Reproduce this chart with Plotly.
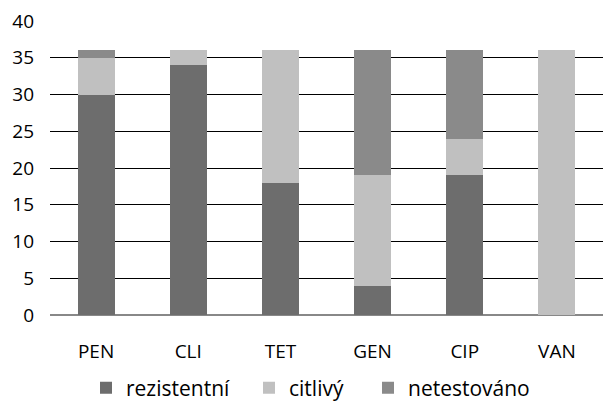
import plotly.graph_objects as go

categories = ["PEN", "CLI", "TET", "GEN", "CIP", "VAN"]
rezistentni = [30, 34, 18, 4, 19, 0]
citlivy = [5, 2, 18, 15, 5, 36]
netestovano = [1, 0, 0, 17, 12, 0]
y_ticks = [0, 5, 10, 15, 20, 25, 30, 35, 40]

font = "Open Sans, DejaVu Sans, sans-serif"

fig = go.Figure()
fig.add_trace(go.Bar(name="rezistentní", x=categories, y=rezistentni, marker_color="#6d6d6d",
                     marker_line_width=0, legend="legend"))
fig.add_trace(go.Bar(name="citlivý", x=categories, y=citlivy, marker_color="#c0c0c0",
                     marker_line_width=0, legend="legend2"))
fig.add_trace(go.Bar(name="netestováno", x=categories, y=netestovano, marker_color="#8a8a8a",
                     marker_line_width=0, legend="legend3"))

leg = dict(orientation="h", xanchor="left", xref="container", yref="container",
           y=0.037, yanchor="middle",
           font=dict(size=21), itemwidth=30, bgcolor="rgba(0,0,0,0)")

fig.update_layout(
    barmode="stack",
    bargap=0.6,
    width=603, height=403,
    margin=dict(l=50, r=0, t=21, b=88, autoexpand=False),
    plot_bgcolor="white", paper_bgcolor="white",
    font=dict(family=font, size=19, color="black"),
    legend=dict(leg, x=86 / 603),
    legend2=dict(leg, x=249 / 603),
    legend3=dict(leg, x=368 / 603),
    showlegend=True,
)
fig.update_xaxes(showgrid=False, showline=False, ticks="", tickfont=dict(size=19),
                 ticklabelstandoff=23, automargin=False)
fig.update_yaxes(range=[0, 40], tickvals=y_ticks, showgrid=True, gridcolor="black", gridwidth=1,
                 zeroline=True, zerolinecolor="#888888", zerolinewidth=2, showline=False,
                 ticks="", tickfont=dict(size=19), ticklabelstandoff=15, automargin=False)

fig.write_html(
    "out.html",
    config={"displayModeBar": False},
    post_script=(
        "document.documentElement.style.margin='0px';"
        "document.documentElement.style.overflow='hidden';"
        "document.body.style.margin='0px';"
        "document.body.style.overflow='hidden';"
        "document.body.style.height='403px';"
    ),
)
